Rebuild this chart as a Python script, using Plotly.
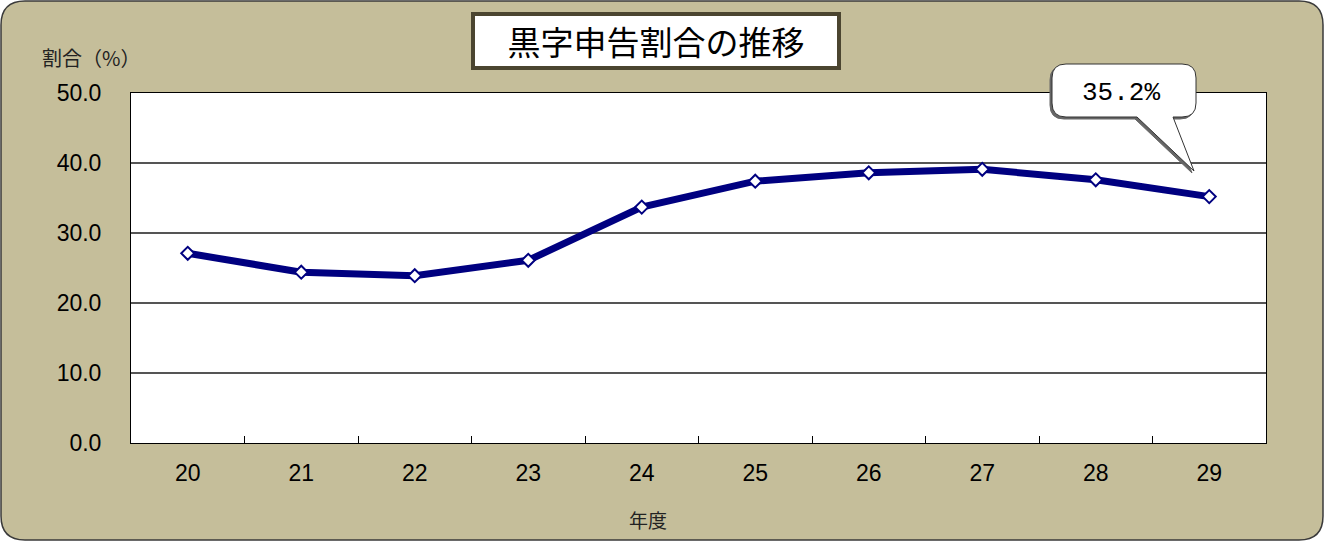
import plotly.graph_objects as go

years = ["20", "21", "22", "23", "24", "25", "26", "27", "28", "29"]
ratio = [27.1, 24.4, 23.9, 26.1, 33.7, 37.4, 38.6, 39.1, 37.6, 35.2]
y_ticks = [0, 10, 20, 30, 40, 50]
y_tick_text = ["0.0", "10.0", "20.0", "30.0", "40.0", "50.0"]
title_text = "黒字申告割合の推移"
y_title = "割合（%）"
x_title = "年度"
callout_text = "35.2%"

W, H = 1325, 542
L, R, T, B = 131, 1266, 93, 443

def fx(px):
    return (px - L) / (R - L)

def fy(py):
    return (B - py) / (B - T)

def rounded_rect(x0, y0, x1, y1, r):
    return (
        f"M {fx(x0 + r)} {fy(y0)} L {fx(x1 - r)} {fy(y0)} "
        f"Q {fx(x1)} {fy(y0)} {fx(x1)} {fy(y0 + r)} "
        f"L {fx(x1)} {fy(y1 - r)} Q {fx(x1)} {fy(y1)} {fx(x1 - r)} {fy(y1)} "
        f"L {fx(x0 + r)} {fy(y1)} Q {fx(x0)} {fy(y1)} {fx(x0)} {fy(y1 - r)} "
        f"L {fx(x0)} {fy(y0 + r)} Q {fx(x0)} {fy(y0)} {fx(x0 + r)} {fy(y0)} Z"
    )

def bubble(x0, y0, x1, y1, r, ta, tb, tipx, tipy, dx=0, dy=0):
    x0 += dx; x1 += dx; ta += dx; tb += dx; tipx += dx
    y0 += dy; y1 += dy; tipy += dy
    return (
        f"M {fx(x0 + r)} {fy(y0)} L {fx(x1 - r)} {fy(y0)} "
        f"Q {fx(x1)} {fy(y0)} {fx(x1)} {fy(y0 + r)} "
        f"L {fx(x1)} {fy(y1 - r)} Q {fx(x1)} {fy(y1)} {fx(x1 - r)} {fy(y1)} "
        f"L {fx(tb)} {fy(y1)} L {fx(tipx)} {fy(tipy)} L {fx(ta)} {fy(y1)} "
        f"L {fx(x0 + r)} {fy(y1)} Q {fx(x0)} {fy(y1)} {fx(x0)} {fy(y1 - r)} "
        f"L {fx(x0)} {fy(y0 + r)} Q {fx(x0)} {fy(y0)} {fx(x0 + r)} {fy(y0)} Z"
    )

FONT = "Noto Sans CJK JP, Liberation Sans, sans-serif"
NUMFONT = "Liberation Sans, Arial, sans-serif"
TAN = "#C5BE9A"

fig = go.Figure()
fig.add_trace(go.Scatter(
    x=years, y=ratio, mode="lines+markers",
    line=dict(color="#000080", width=7),
    marker=dict(symbol="diamond", size=10, color="white",
                line=dict(color="#000080", width=2)),
    showlegend=False, hoverinfo="x+y",
))

shapes = [
    dict(type="path", xref="paper", yref="paper", layer="below",
         path=rounded_rect(1, 1, 1323, 540, 24),
         fillcolor=TAN, line=dict(color="#3a3a3a", width=1.5)),
    dict(type="rect", xref="x domain", yref="y domain", layer="below",
         x0=0, x1=1, y0=0, y1=1, fillcolor="white", line=dict(width=0)),
    # callout shadow and body
    dict(type="path", xref="paper", yref="paper", layer="above",
         path=bubble(1052, 64, 1196, 117, 14, 1137, 1173, 1194, 171, dx=-2, dy=2),
         fillcolor="#666666", line=dict(color="#666666", width=1)),
    dict(type="path", xref="paper", yref="paper", layer="above",
         path=bubble(1052, 64, 1196, 117, 14, 1137, 1173, 1194, 171),
         fillcolor="white", line=dict(color="#333333", width=1)),
]

annotations = [
    dict(text=title_text, xref="paper", yref="paper", x=fx(656), y=fy(41),
         xanchor="center", yanchor="middle", showarrow=False,
         font=dict(family=FONT, size=33, color="black"),
         bgcolor="white", bordercolor="#4B4530", borderwidth=4,
         width=360, height=48, borderpad=1),
    dict(text=y_title, xref="paper", yref="paper", x=fx(91), y=fy(57),
         xanchor="center", yanchor="middle", showarrow=False,
         font=dict(family=FONT, size=20, color="#222222")),
    dict(text=x_title, xref="paper", yref="paper", x=fx(648), y=fy(519),
         xanchor="center", yanchor="middle", showarrow=False,
         font=dict(family=FONT, size=19, color="#222222")),
    dict(text=callout_text, xref="paper", yref="paper", x=fx(1121), y=fy(93),
         xanchor="center", yanchor="middle", showarrow=False,
         font=dict(family="Liberation Mono, DejaVu Sans Mono, monospace", size=26, color="black")),
]

fig.update_layout(
    width=W, height=H,
    margin=dict(l=L, r=W - R, t=T, b=H - B, pad=0),
    paper_bgcolor="white", plot_bgcolor="white",
    shapes=shapes, annotations=annotations,
    xaxis=dict(
        type="category", categoryorder="array", categoryarray=years,
        range=[-0.5, len(years) - 0.5],
        tickson="boundaries", ticks="inside", ticklen=7, tickcolor="black",
        tickwidth=1, showgrid=False,
        showline=True, linecolor="black", linewidth=1, mirror=True,
        tickfont=dict(family=NUMFONT, size=23, color="black"),
        ticklabelstandoff=9,
        fixedrange=True,
    ),
    yaxis=dict(
        range=[0, 50], tickvals=y_ticks, ticktext=y_tick_text,
        ticks="", showgrid=True, gridcolor="#555555", gridwidth=1.5,
        showline=True, linecolor="black", linewidth=1, mirror=True,
        zeroline=False,
        tickfont=dict(family=NUMFONT, size=23, color="black"),
        ticklabelstandoff=24,
        fixedrange=True,
    ),
)

fig.write_html("out.html",
               config={"displayModeBar": False},
               post_script="document.body.style.margin='0';document.body.style.padding='0';")
